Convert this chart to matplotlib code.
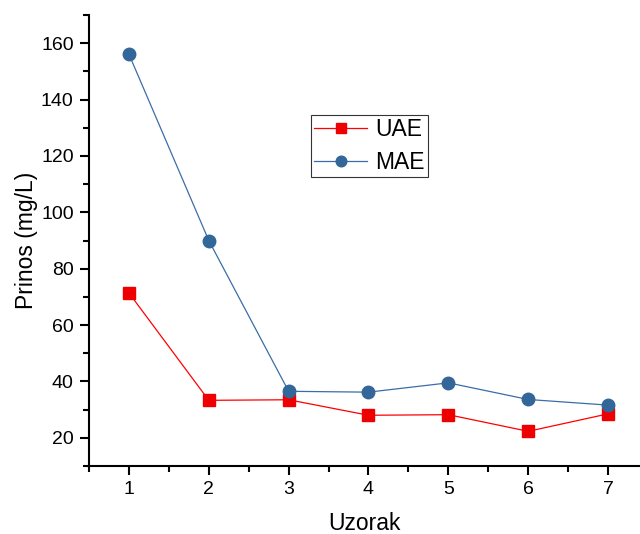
import matplotlib
matplotlib.use("Agg")
import matplotlib.pyplot as plt
from matplotlib.ticker import MultipleLocator

plt.rcParams['font.family'] = ['Liberation Sans', 'DejaVu Sans']

samples = [1, 2, 3, 4, 5, 6, 7]
uae = [71.4, 33.3, 33.5, 28.0, 28.2, 22.3, 28.5]
mae = [156.1, 90.0, 36.5, 36.2, 39.5, 33.6, 31.6]

fig = plt.figure(figsize=(6.4, 5.34), dpi=100)
ax = fig.add_axes([89 / 640, 68 / 534, 551 / 640, 451 / 534])

ax.plot(samples, uae, color='#FF0000', lw=0.9, marker='s', ms=8,
        mfc='#EE0000', mec='#EE0000', label='UAE')
ax.plot(samples, mae, color='#3A6DA8', lw=0.9, marker='o', ms=9,
        mfc='#336699', mec='#336699', label='MAE')

ax.set_xlim(0.5, 7.4)
ax.set_ylim(10, 170)
ax.xaxis.set_major_locator(MultipleLocator(1))
ax.xaxis.set_minor_locator(MultipleLocator(0.5))
ax.yaxis.set_minor_locator(MultipleLocator(10))
ax.set_yticks(range(20, 161, 20))

for side in ('top', 'right'):
    ax.spines[side].set_visible(False)
for side in ('left', 'bottom'):
    ax.spines[side].set_linewidth(1.5)

ax.tick_params(which='major', direction='out', length=6.5, width=1.5,
               labelsize=14, pad=4.5)
ax.tick_params(which='minor', direction='out', length=4, width=1.5)

ax.set_xlabel('Uzorak', fontsize=16.5, labelpad=10)
ax.set_ylabel('Prinos (mg/L)', fontsize=16.5, labelpad=2)

leg = ax.legend(loc='upper left', bbox_to_anchor=(311 / 640, 1 - 115 / 534),
                bbox_transform=fig.transFigure, fontsize=16.5, frameon=True,
                fancybox=False, shadow=False, handlelength=2.3,
                borderpad=0.15, labelspacing=0.4, handletextpad=0.35,
                borderaxespad=0, markerscale=0.85)
leg.get_frame().set_edgecolor('black')
leg.get_frame().set_linewidth(0.8)

fig.savefig('out.png', dpi=100)
